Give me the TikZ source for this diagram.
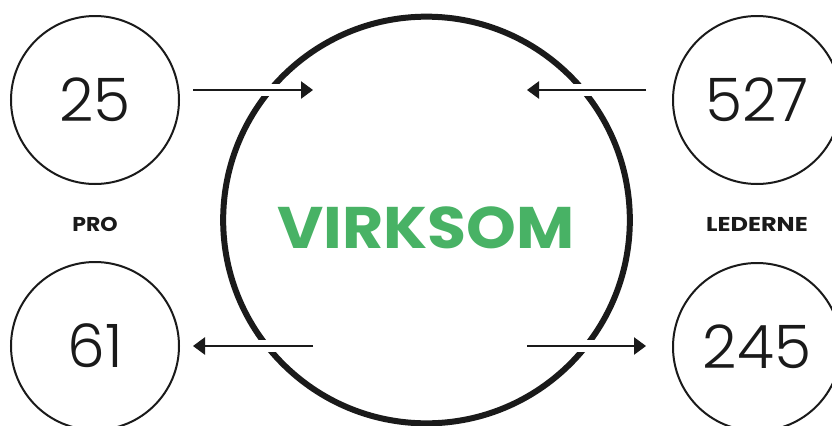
\documentclass[tikz,border=0pt]{standalone}
\usepackage{fontspec}
\setmainfont{Poppins}
\newfontfamily\numfont{Poppins Light}
\usetikzlibrary{arrows.meta}
\definecolor{vgreen}{RGB}{72,178,101}
\definecolor{ink}{RGB}{26,26,26}
\begin{document}
\begin{tikzpicture}[x=0.75pt,y=-0.75pt,
  small/.style={circle,draw=ink,line width=1.5pt,minimum size=126pt,inner sep=0pt,
    font=\numfont\fontsize{45}{45}\selectfont,text=ink,text depth=0pt},
  big/.style={circle,draw=ink,line width=4.5pt,minimum size=305pt,inner sep=0pt},
  lab/.style={font=\bfseries\fontsize{15}{15}\selectfont,text=ink},
  titlestyle/.style={font=\bfseries\fontsize{44}{44}\selectfont,text=vgreen},
  gapline/.style={draw=white,line width=9pt},
  arr/.style={draw=ink,line width=1.1pt,-{Triangle[length=9pt,width=13pt]}}]
\useasboundingbox (0,0) rectangle (832,425);
\clip (0,0) rectangle (832,425);
\node[big] (main) at (426.5,220) {};
\node[titlestyle] (title) at (426,228) {\scalebox{1.08}[1]{VIRKSOM}};
\node[small] (n25) at (95,100) {25};
\node[small] (n527) at (757,100) {527};
\node[small] (n61) at (95,346) {61};
\node[small] (n245) at (757,347) {245};
\node[lab] (pro) at (95,224) {\scalebox{1.1}[1]{PRO}};
\node[lab] (led) at (757,224) {\scalebox{1.2}[1]{LEDERNE}};
\coordinate (a1s) at (193,90);  \coordinate (a1e) at (313,90);
\coordinate (a2s) at (646,90);  \coordinate (a2e) at (527,90);
\coordinate (a3s) at (313,346); \coordinate (a3e) at (193,346);
\coordinate (a4s) at (527,346); \coordinate (a4e) at (646,346);
\foreach \s/\e in {a1s/a1e,a2s/a2e,a3s/a3e,a4s/a4e}{
  \draw[gapline] (\s) -- (\e);
  \draw[arr] (\s) -- (\e);
}
\end{tikzpicture}
\end{document}
